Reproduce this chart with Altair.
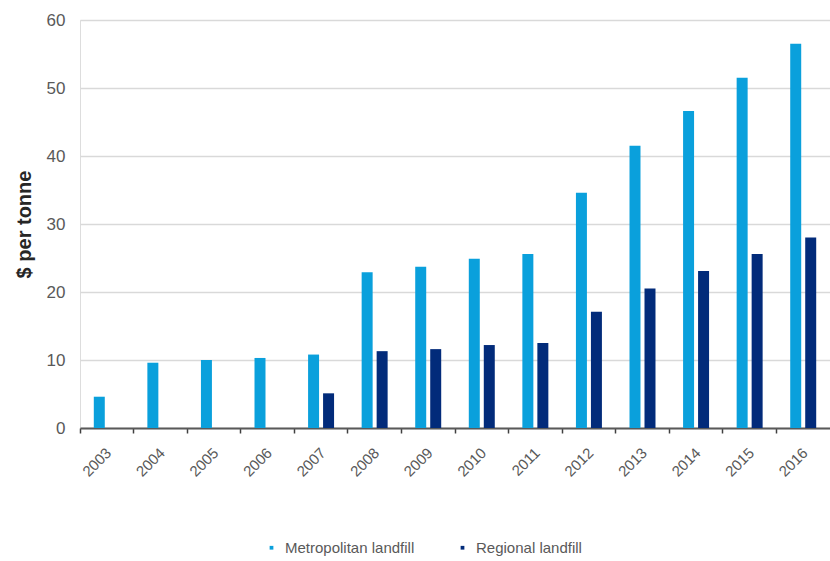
import altair as alt
import pandas as pd

years = ["2003", "2004", "2005", "2006", "2007", "2008", "2009", "2010",
         "2011", "2012", "2013", "2014", "2015", "2016"]
metro = [4.6, 9.6, 10.0, 10.3, 10.8, 22.9, 23.7, 24.9, 25.6, 34.6, 41.5, 46.6, 51.5, 56.5]
regional = [None, None, None, None, 5.1, 11.3, 11.6, 12.2, 12.5, 17.1, 20.5, 23.1, 25.6, 28.0]
series = ["Metropolitan landfill", "Regional landfill"]
colors = ["#0AA0DC", "#022B7A"]

rows = []
for i, y in enumerate(years):
    rows.append({"year": y, "series": series[0], "value": metro[i]})
    if regional[i] is not None:
        rows.append({"year": y, "series": series[1], "value": regional[i]})
df = pd.DataFrame(rows)

font = "Liberation Sans"

chart = alt.Chart(df).mark_bar().encode(
    x=alt.X("year:N", sort=years,
            scale=alt.Scale(domain=years, paddingInner=0, paddingOuter=0),
            axis=alt.Axis(title=None, labelAngle=-45, bandPosition=0, labelOffset=-3,
                          labelFontSize=15, labelColor="#595959", labelFont=font,
                          domainColor="#595959", domainWidth=2, tickColor="#404040",
                          tickSize=5, tickWidth=1.5, labelPadding=12, grid=False)),
    xOffset=alt.XOffset("series:N", scale=alt.Scale(domain=series, paddingInner=0.267, paddingOuter=0.92)),
    y=alt.Y("value:Q", scale=alt.Scale(domain=[0, 60]),
            axis=alt.Axis(title="$ per tonne", values=[0, 10, 20, 30, 40, 50, 60],
                          titleFontSize=20, titleFont=font, titleFontWeight="bold",
                          titleColor="#262626", titlePadding=12,
                          labelFontSize=17, labelColor="#595959", labelFont=font,
                          labelPadding=15, domain=False, ticks=False,
                          gridColor="#d9d9d9", gridWidth=1.5)),
    color=alt.Color("series:N", scale=alt.Scale(domain=series, range=colors),
                    legend=alt.Legend(title=None, orient="none", direction="horizontal",
                                      legendX=184, legendY=520, symbolType="square",
                                      symbolSize=14, labelFontSize=15, labelFont=font,
                                      labelColor="#595959", columnPadding=40,
                                      labelOffset=6)),
).properties(
    width=750, height=408,
    padding={"left": 80, "top": 20, "right": 0, "bottom": 133},
    autosize=alt.AutoSizeParams(type="none"),
).configure_view(stroke=None).configure(background="white")

chart.save("out.html", embed_options={"renderer": "svg", "actions": False})
